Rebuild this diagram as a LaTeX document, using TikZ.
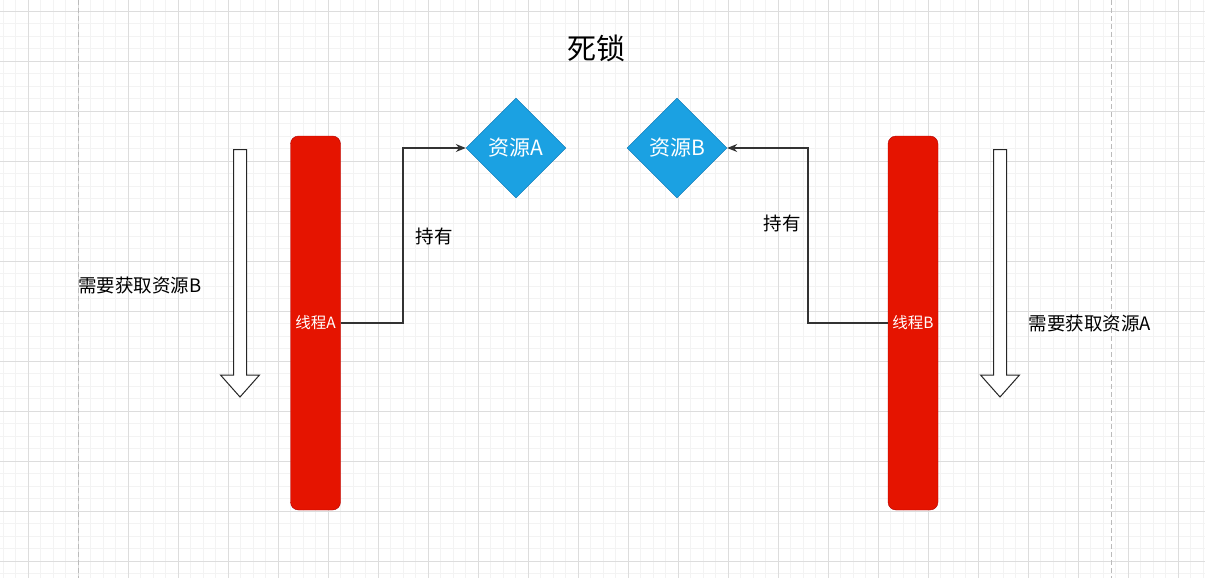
\documentclass[tikz,border=0pt]{standalone}
\usepackage{fontspec}
\newfontfamily\cjk{Noto Sans CJK SC}
\usetikzlibrary{shapes.geometric,arrows.meta}
\definecolor{gridminor}{HTML}{F3F3F3}
\definecolor{gridmajor}{HTML}{DDDDDD}
\definecolor{pageline}{HTML}{BBBBBB}
\definecolor{threadfill}{HTML}{E51400}
\definecolor{threadline}{HTML}{B20000}
\definecolor{resfill}{HTML}{1BA1E2}
\definecolor{resline}{HTML}{006EAF}
\tikzset{
  threadbox/.style={draw=threadline, fill=threadfill, rounded corners=8pt,
    minimum width=50pt, minimum height=374pt, inner sep=0pt,
    text=white, font=\cjk\fontsize{15.5}{15.5}\selectfont},
  resource/.style={diamond, draw=resline, fill=resfill, aspect=1,
    minimum width=100pt, minimum height=100pt, inner sep=0pt,
    text=white, font=\cjk\fontsize{21}{21}\selectfont},
  holds/.style={draw=black!80, line width=1.1pt, -{Stealth[length=10pt,width=8pt]}},
  lbl/.style={font=\cjk\fontsize{18.5}{18.5}\selectfont, text=black},
  hollowarrow/.style={draw=black!85, line width=1pt, fill=white, line join=miter},
}
\begin{document}
\begin{tikzpicture}[x=1pt,y=-1pt]
\useasboundingbox (0,0) rectangle (1205,578);
\fill[white] (0,0) rectangle (1205,578);
% background grid
\foreach \i in {0,...,96} {
  \draw[gridminor, line width=0.8pt] ({3+12.5*\i},0) -- ({3+12.5*\i},578);
}
\foreach \j in {0,...,46} {
  \draw[gridminor, line width=0.8pt] (0,{-1.5+12.5*\j}) -- (1205,{-1.5+12.5*\j});
}
\foreach \i in {0,...,24} {
  \draw[gridmajor, line width=0.8pt] ({28+50*\i},0) -- ({28+50*\i},578);
}
\foreach \j in {0,...,11} {
  \draw[gridmajor, line width=0.8pt] (0,{11+50*\j}) -- (1205,{11+50*\j});
}
% page borders
\draw[pageline, line width=1pt, dash pattern=on 5pt off 3pt] (78,0) -- (78,578);
\draw[pageline, line width=1pt, dash pattern=on 5pt off 3pt] (1111,0) -- (1111,578);

% title
\node[font=\cjk\fontsize{29}{29}\selectfont] (title) at (596,48) {死锁};

% threads
\node[threadbox] (ta) at (315.5,323) {线程A};
\node[threadbox] (tb) at (913,323) {线程B};

% resources
\node[resource] (ra) at (516,148) {资源A};
\node[resource] (rb) at (677,148) {资源B};

% hold connectors
\coordinate (ka) at (403,323);
\coordinate (kb) at (808,323);
\draw[holds] (ta.east |- ka) -- (ka) -- (ka |- ra.west) -- (ra.west);
\draw[holds] (tb.west |- kb) -- (kb) -- (kb |- rb.east) -- (rb.east);
\node[lbl] (ha) at (434,236) {持有};
\node[lbl] (hb) at (782,223) {持有};

% waiting arrows
\draw[hollowarrow] (233.5,149.5) -- (246.5,149.5) -- (246.5,375) -- (259.5,375)
  -- (240,397) -- (220.5,375) -- (233.5,375) -- cycle;
\draw[hollowarrow] (993.5,149.5) -- (1006.5,149.5) -- (1006.5,375) -- (1019.5,375)
  -- (1000,397) -- (980.5,375) -- (993.5,375) -- cycle;
\node[lbl] (wa) at (140,285) {需要获取资源B};
\node[lbl] (wb) at (1090,323) {需要获取资源A};
\end{tikzpicture}
\end{document}
